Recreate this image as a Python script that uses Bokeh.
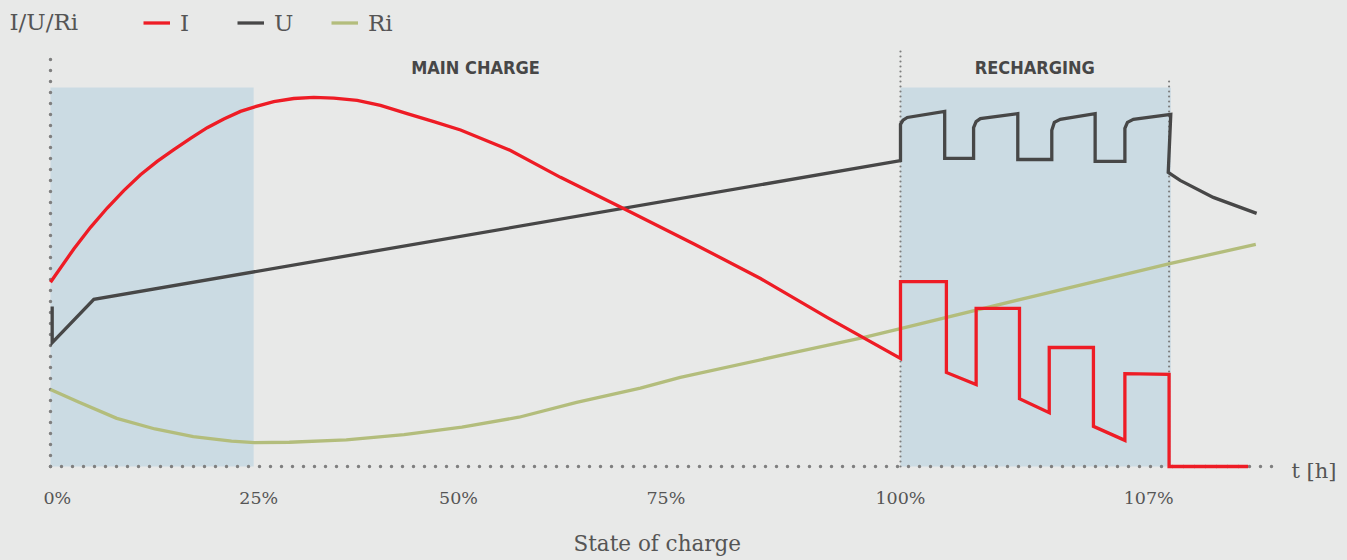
from bokeh.plotting import figure
from bokeh.models import Legend, LegendItem, FixedTicker, Title, Range1d
from bokeh.core.properties import value
from bokeh.embed import file_html
from bokeh.resources import INLINE
from jinja2 import Template

# ---- data (time axis: 0..100 main charge up to 100 % SOC, 100..~132 recharging) ----
i_t = [0.0, 2.74, 4.71, 6.67, 8.62, 10.59, 12.55, 14.51, 16.47, 18.44, 20.39, 22.35, 24.32, 26.27, 28.62,
       30.98, 33.33, 36.08, 38.82, 41.96, 45.09, 48.24, 54.12, 60.0, 67.41, 75.65, 83.53, 91.41, 100.0,
       100.0, 105.4, 105.4, 108.9, 108.9, 114.0, 114.0, 117.5, 117.5, 122.7, 122.7, 126.4, 126.4, 131.6, 131.6, 140.9]
i_v = [48.6, 57.4, 63.1, 68.2, 72.8, 77.0, 80.5, 83.6, 86.6, 89.4, 91.7, 93.7, 95.1, 96.3, 97.1,
       97.4, 97.2, 96.6, 95.3, 93.1, 91.0, 88.8, 83.4, 76.3, 68.1, 58.8, 49.6, 39.3, 28.5,
       48.8, 48.8, 24.8, 21.6, 41.7, 41.7, 17.9, 14.2, 31.4, 31.4, 10.6, 6.9, 24.5, 24.3, 0.0, 0.0]

u_t = [0.2, 0.2, 5.1, 100.0, 100.0, 100.3, 100.8, 105.2, 105.2, 108.6, 108.6, 108.9, 109.4, 113.8, 113.8,
       117.8, 117.8, 118.1, 118.8, 122.9, 122.9, 126.4, 126.4, 126.7, 127.4, 131.8, 131.5, 132.9, 136.8, 141.9]
u_v = [42.2, 32.7, 44.1, 80.7, 90.3, 91.4, 92.1, 93.7, 81.3, 81.3, 89.4, 91.0, 91.8, 93.1, 81.0,
       81.0, 88.7, 90.8, 91.6, 93.1, 80.5, 80.5, 89.2, 90.8, 91.6, 92.9, 77.6, 75.5, 71.0, 66.8]

ri_t = [0.0, 3.3, 7.8, 12.3, 16.8, 21.3, 24.0, 28.1, 34.8, 41.6, 48.4, 55.1, 61.9, 69.4, 74.1, 85.9, 95.6,
        100.0, 116.0, 131.8, 141.8]
ri_v = [20.3, 17.0, 12.7, 9.9, 7.9, 6.7, 6.3, 6.4, 7.0, 8.4, 10.4, 13.0, 16.9, 20.7, 23.5, 29.3, 34.0,
        36.4, 45.1, 53.6, 58.6]

soc_labels = ["0%", "25%", "50%", "75%", "100%", "107%"]
soc_tick_t = [0.8, 24.5, 48.0, 72.4, 100.0, 129.2]

phase_names = ["MAIN CHARGE", "RECHARGING"]
phase_start = [0.0, 100.0]
phase_end = [100.0, 131.6]
shade_start = [0.0, 100.0]
shade_end = [23.9, 131.8]

series_names = ["I", "U", "Ri"]
series_colors = ["#ee1c25", "#474747", "#b3bd7c"]

BG = "#e8e9e8"
TXT = "#555555"
SERIF = "DejaVu Serif"

p = figure(width=1347, height=560, output_backend="svg", toolbar_location=None,
           x_range=Range1d(-5.882, 152.59), y_range=Range1d(-5.54, 122.96),
           y_axis_location=None, min_border=0, min_border_bottom=73)
p.background_fill_color = BG
p.border_fill_color = BG
p.outline_line_color = None
p.xgrid.visible = False
p.ygrid.visible = False

# shaded phases
p.quad(left=shade_start, right=shade_end, bottom=0, top=100, fill_color="#cbdbe3", line_color=None)

# boundaries of recharging phase (fine dots)
p.segment(x0=[phase_end[0], phase_end[1]], y0=[0, 0], x1=[phase_end[0], phase_end[1]], y1=[110.6, 102.4],
          line_color="#7d7d7d", line_width=2.2, line_dash="0 5", line_cap="round")

# dotted axes
p.segment(x0=[0, 0], y0=[0, 0], x1=[0, 143.9], y1=[109.0, 0],
          line_color="#7f7f7f", line_width=3.5, line_dash="0 11", line_cap="round")

# phase titles
p.text(x=[(s + e) / 2 for s, e in zip(phase_start, phase_end)], y=[105.3, 105.3], text=phase_names,
       text_font=value("DejaVu Sans Condensed"), text_font_style="bold", text_font_size="18px",
       text_color="#474747", text_align="center", text_baseline="middle")

r_ri = p.line(ri_t, ri_v, line_color=series_colors[2], line_width=3.3, line_join="round")
r_u = p.line(u_t, u_v, line_color=series_colors[1], line_width=3.3, line_join="miter")
r_i = p.line(i_t, i_v, line_color=series_colors[0], line_width=3.3, line_join="miter")

# axis labels / captions
p.text(x=[-4.82], y=[117.2], text=["I/U/Ri"], text_font=value(SERIF), text_font_size="23px",
       text_color=TXT, text_align="left", text_baseline="middle")
p.text(x=[146.0], y=[-1.3], text=["t [h]"], text_font=value(SERIF), text_font_size="21px",
       text_color=TXT, text_align="left", text_baseline="middle")

legend = Legend(items=[LegendItem(label=n, renderers=[r]) for n, r in zip(series_names, [r_i, r_u, r_ri])],
                orientation="horizontal", location=(143, 451), padding=0, margin=0,
                glyph_width=27, glyph_height=27, label_height=27, label_width=30, label_standoff=10, spacing=27,
                background_fill_alpha=0, border_line_color=None,
                label_text_font=SERIF, label_text_font_size="23px", label_text_color=TXT)
p.add_layout(legend)

ax = p.xaxis[0]
ax.ticker = FixedTicker(ticks=soc_tick_t)
ax.major_label_overrides = {t: lab for t, lab in zip(soc_tick_t, soc_labels)}
ax.axis_line_color = None
ax.major_tick_line_color = None
ax.minor_tick_line_color = None
ax.major_tick_out = 0
ax.major_label_standoff = 0
ax.major_label_text_font = SERIF
ax.major_label_text_font_size = "17.5px"
ax.major_label_text_color = TXT

caption = Title(text="State of charge", align="left", offset=573, standoff=0, vertical_align="top",
                text_font=SERIF, text_font_size="21.5px", text_font_style="normal", text_color=TXT)
if "padding" in Title.properties():
    caption.padding = dict(left=0, right=0, top=20, bottom=0)
p.add_layout(caption, "below")

template = Template("""{% extends base %}
{% block preamble %}<style>html, body { background: #e8e9e8; margin: 0 !important; padding: 0 !important; overflow: hidden; }</style>{% endblock %}""")

open("out.html", "w").write(file_html(p, INLINE, template=template))
